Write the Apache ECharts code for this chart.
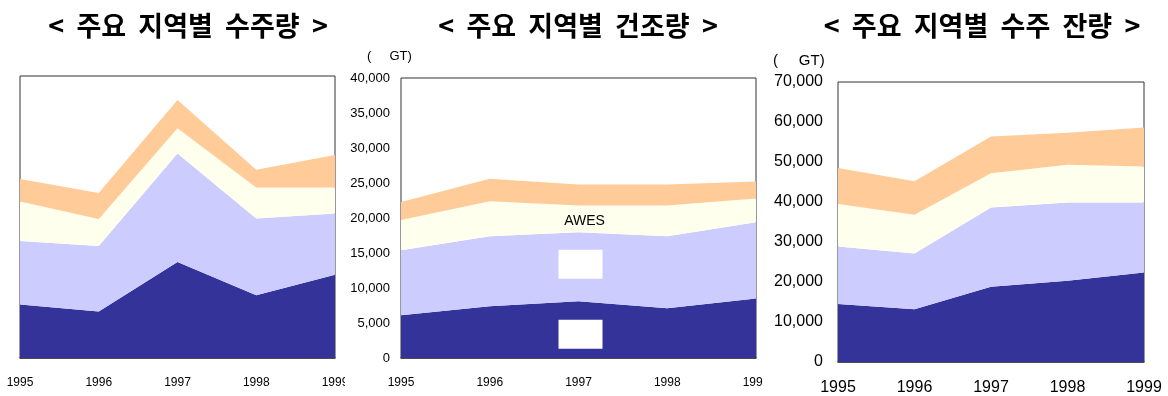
<!DOCTYPE html>
<html><head><meta charset="utf-8">
<script src="https://cdn.jsdelivr.net/npm/echarts@6/dist/echarts.min.js"></script>
<style>
html,body{margin:0;padding:0;background:#fff;width:1168px;height:396px;overflow:hidden}
.c{position:absolute;top:0;height:396px}
</style></head>
<body>
<div id="c1" class="c" style="left:0;width:345px"></div>
<div id="c2" class="c" style="left:345px;width:418px"></div>
<div id="c3" class="c" style="left:763px;width:405px"></div>
<script>
const years = ['1995','1996','1997','1998','1999'];
const colors = ['#333399','#CCCCFF','#FFFFEE','#FFCC99'];

// 주요 지역별 수주량 (stack layers, bottom to top)
const orders1 = [7600, 6600, 13600, 8900, 11800];
const orders2 = [9000, 9300, 15400, 10900, 8700];
const orders3 = [5600, 3800, 3600, 4400, 3700];
const orders4 = [3200, 3700, 4000, 2500, 4600];

// 주요 지역별 건조량
const built1 = [6100, 7400, 8100, 7100, 8500];
const built2 = [9300, 10000, 9850, 10300, 10900];
const built3 = [4300, 5000, 3850, 4400, 3400];
const built4 = [2600, 3200, 3000, 3000, 2400];

// 주요 지역별 수주 잔량
const backlog1 = [14500, 13200, 18800, 20300, 22400];
const backlog2 = [14400, 13900, 19800, 19600, 17500];
const backlog3 = [10600, 9700, 8600, 9400, 9000];
const backlog4 = [9000, 8400, 9200, 8000, 9700];

const titles = ['<  주요  지역별  수주량  >', '<  주요  지역별  건조량  >', '<  주요  지역별  수주  잔량  >'];
const unitLabel = '(     GT)';

const sans = '"Liberation Sans", Arial, sans-serif';

function mkSeries(layers, extra) {
  return layers.map((d, i) => {
    const s = {
      type: 'line', stack: 'total', data: d, symbol: 'none',
      lineStyle: {width: 0}, areaStyle: {color: colors[i], opacity: 1},
      itemStyle: {color: colors[i]}, silent: true, animation: false, z: 2
    };
    if (extra && extra[i]) Object.assign(s, extra[i]);
    return s;
  });
}

function build(el, cfg) {
  const ch = echarts.init(document.getElementById(el), null, {renderer: 'canvas'});
  ch.setOption({
    animation: false,
    title: {text: cfg.title, left: cfg.titleX, top: 7, textAlign: 'center',
      textStyle: {fontFamily: '"Noto Sans CJK KR", sans-serif', fontWeight: 'bold', fontSize: 27, color: '#000'}},
    grid: Object.assign({show: true, borderColor: '#333', borderWidth: 1, backgroundColor: '#fff',
      containLabel: false, outerBoundsMode: 'none'}, cfg.grid),
    xAxis: {type: 'category', data: years, boundaryGap: false,
      axisLine: {show: true, lineStyle: {color: '#333', width: 1.5}}, axisTick: {show: false},
      axisLabel: {interval: 0, showMinLabel: true, showMaxLabel: true, margin: cfg.xMargin, color: '#000',
        fontFamily: sans, fontSize: cfg.xSize, hideOverlap: false},
      splitLine: {show: false}},
    yAxis: {type: 'value', min: 0, max: cfg.max, interval: cfg.interval,
      axisLine: {show: false}, axisTick: {show: false}, splitLine: {show: false},
      axisLabel: {show: cfg.showY, margin: cfg.yMargin, color: '#000', fontFamily: sans, fontSize: cfg.ySize,
        formatter: v => v.toLocaleString('en-US')}},
    graphic: cfg.unit ? [{type: 'text', left: cfg.unit.x, top: cfg.unit.y,
      style: {text: unitLabel, fontFamily: sans, fontSize: cfg.unit.size, fill: '#000'}}] : [],
    series: mkSeries(cfg.layers, cfg.extra)
  });
}

build('c1', {title: titles[0], titleX: 183, grid: {left: 20, width: 315, top: 76, height: 282},
  max: 40000, interval: 5000, showY: false, xMargin: 19, xSize: 12,
  layers: [orders1, orders2, orders3, orders4]});

build('c2', {title: titles[1], titleX: 228, grid: {left: 56, width: 355, top: 78, height: 280},
  max: 40000, interval: 5000, showY: true, yMargin: 11, ySize: 13,
  xMargin: 19, xSize: 12,
  unit: {x: 22, y: 50, size: 13},
  layers: [built1, built2, built3, built4],
  extra: {3: {markPoint: {silent: true, symbol: 'rect', itemStyle: {color: '#fff'}, data: [
    {coord: ['1997', 13400], symbolSize: [44, 29], symbolOffset: [2, 0], label: {show: false}},
    {coord: ['1997', 3400], symbolSize: [44, 29], symbolOffset: [2, 0], label: {show: false}},
    {coord: ['1997', 19500], symbolSize: 0, label: {show: true, formatter: 'AWES', position: 'inside', offset: [6, 0],
      color: '#000', fontFamily: sans, fontSize: 14}}
  ]}}}});

build('c3', {title: titles[2], titleX: 214, grid: {left: 75, width: 306, top: 82, height: 280},
  max: 70000, interval: 10000, showY: true, yMargin: 15, ySize: 16,
  xMargin: 18, xSize: 16,
  unit: {x: 10, y: 53, size: 15},
  layers: [backlog1, backlog2, backlog3, backlog4]});
</script>
</body></html>
